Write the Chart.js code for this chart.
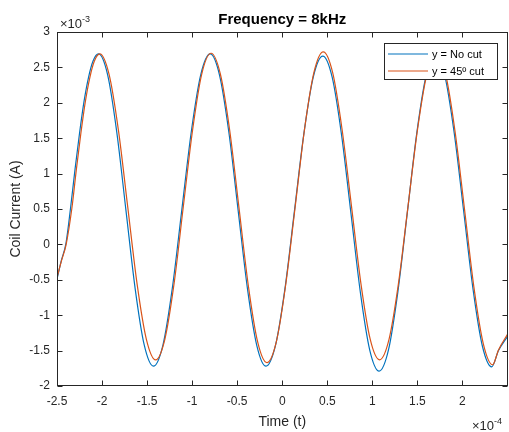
<!DOCTYPE html>
<html lang="en">
<head>
  <meta charset="UTF-8" />
  <title>Frequency = 8kHz</title>
  <script src="https://cdn.jsdelivr.net/npm/chart.js"></script>
  <style>
    body { margin: 0; background: #fff; }
    canvas { display: block; }
  </style>
</head>
<body>
  <canvas id="myChart" width="509" height="432"></canvas>

  <script>
    // time in units of 1e-4 s, current in units of 1e-3 A
    const timeNoCut = [-2.5, -2.45, -2.40, -2.35, -2.30, -2.25, -2.20, -2.15, -2.10, -2.04,
      -1.938, -1.837, -1.735, -1.633, -1.532, -1.43,
      -1.325, -1.22, -1.115, -1.01, -0.905, -0.80,
      -0.697, -0.593, -0.49, -0.387, -0.283, -0.18,
      -0.075, 0.03, 0.135, 0.24, 0.345, 0.45,
      0.554, 0.658, 0.763, 0.867, 0.971, 1.075,
      1.179, 1.283, 1.388, 1.492, 1.596, 1.70,
      1.804, 1.908, 2.013, 2.117, 2.221, 2.325,
      2.40, 2.50];
    const currentNoCut = [-0.49, -0.22, 0.02, 0.51, 1.06, 1.57, 2.02, 2.36, 2.59, 2.69,
      2.395, 1.59, 0.485, -0.62, -1.42, -1.72,
      -1.425, -0.617, 0.485, 1.588, 2.395, 2.69,
      2.395, 1.588, 0.485, -0.617, -1.425, -1.72,
      -1.427, -0.625, 0.47, 1.565, 2.367, 2.66,
      2.362, 1.548, 0.435, -0.678, -1.492, -1.79,
      -1.49, -0.673, 0.445, 1.563, 2.38, 2.68,
      2.385, 1.578, 0.475, -0.628, -1.435, -1.73,
      -1.50, -1.30];

    const timeCut = [-2.5, -2.45, -2.40, -2.335, -2.285, -2.235, -2.185, -2.135, -2.085, -2.025,
      -1.922, -1.818, -1.715, -1.612, -1.508, -1.405,
      -1.303, -1.20, -1.098, -0.995, -0.893, -0.79,
      -0.687, -0.583, -0.48, -0.377, -0.273, -0.17,
      -0.066, 0.038, 0.143, 0.247, 0.351, 0.455,
      0.559, 0.663, 0.768, 0.872, 0.976, 1.08,
      1.185, 1.29, 1.395, 1.50, 1.605, 1.71,
      1.814, 1.918, 2.023, 2.127, 2.231, 2.335,
      2.40, 2.50];
    const currentCut = [-0.47, -0.23, -0.01, 0.51, 1.06, 1.57, 2.02, 2.36, 2.59, 2.69,
      2.40, 1.61, 0.53, -0.55, -1.34, -1.63,
      -1.34, -0.548, 0.535, 1.618, 2.41, 2.70,
      2.407, 1.608, 0.515, -0.578, -1.377, -1.67,
      -1.376, -0.573, 0.525, 1.623, 2.426, 2.72,
      2.429, 1.633, 0.545, -0.543, -1.339, -1.63,
      -1.341, -0.55, 0.53, 1.61, 2.40, 2.69,
      2.396, 1.593, 0.495, -0.603, -1.40, -1.70,
      -1.49, -1.27];

    const seriesNames = ['y = No cut', 'y = 45º cut'];
    const seriesColors = ['#0072BD', '#D95319'];
    const xTicks = [-2.5, -2, -1.5, -1, -0.5, 0, 0.5, 1, 1.5, 2];
    const yTicks = [-2, -1.5, -1, -0.5, 0, 0.5, 1, 1.5, 2, 2.5, 3];

    const FONT = '"Liberation Sans", Arial, sans-serif';
    const AXIS = '#262626';

    const toPoints = (xs, ys) => xs.map((x, i) => ({ x: x, y: ys[i] }));

    // box, inward ticks, titles and legend like matlab
    const matlabFrame = {
      id: 'matlabFrame',
      beforeDraw(chart) {
        const ctx = chart.ctx;
        ctx.save();
        ctx.fillStyle = '#fff';
        ctx.fillRect(0, 0, chart.width, chart.height);
        ctx.restore();
      },
      afterDraw(chart) {
        const { ctx, chartArea: a } = chart;
        const xs = chart.scales.x, ys = chart.scales.y;
        const L = Math.round(a.left) + 0.5, R = Math.round(a.right) - 0.5;
        const T = Math.round(a.top) + 0.5, B = Math.round(a.bottom) - 0.5;
        ctx.save();
        ctx.strokeStyle = AXIS;
        ctx.lineWidth = 1;
        ctx.strokeRect(L, T, R - L, B - T);

        ctx.beginPath();
        xTicks.forEach(v => {
          const px = Math.round(xs.getPixelForValue(v)) + 0.5;
          ctx.moveTo(px, B); ctx.lineTo(px, B - 5);
          ctx.moveTo(px, T); ctx.lineTo(px, T + 5);
        });
        yTicks.forEach(v => {
          const py = Math.round(ys.getPixelForValue(v)) + 0.5;
          ctx.moveTo(L, py); ctx.lineTo(L + 5, py);
          ctx.moveTo(R, py); ctx.lineTo(R - 5, py);
        });
        ctx.stroke();

        // title
        ctx.fillStyle = '#000';
        ctx.font = 'bold 15px ' + FONT;
        ctx.textAlign = 'center';
        ctx.textBaseline = 'alphabetic';
        ctx.fillText('Frequency = 8kHz', (a.left + a.right) / 2, 24);

        // axis titles
        ctx.fillStyle = AXIS;
        ctx.font = '14px ' + FONT;
        ctx.textBaseline = 'middle';
        ctx.fillText('Time (t)', (a.left + a.right) / 2, 422);
        ctx.save();
        ctx.translate(16, (a.top + a.bottom) / 2);
        ctx.rotate(-Math.PI / 2);
        ctx.fillText('Coil Current (A)', 0, 0);
        ctx.restore();

        // exponents
        ctx.textAlign = 'left';
        ctx.textBaseline = 'alphabetic';
        ctx.font = '13px ' + FONT;
        ctx.fillText('\u00d710', 60, 28);
        let w = ctx.measureText('\u00d710').width;
        ctx.font = '9px ' + FONT;
        ctx.fillText('-3', 60 + w, 22);
        ctx.font = '13px ' + FONT;
        ctx.fillText('\u00d710', 472, 430);
        w = ctx.measureText('\u00d710').width;
        ctx.font = '9px ' + FONT;
        ctx.fillText('-4', 472 + w, 424);

        // legend
        ctx.fillStyle = '#fff';
        ctx.fillRect(384.5, 43.5, 113, 36);
        ctx.strokeStyle = AXIS;
        ctx.strokeRect(384.5, 43.5, 113, 36);
        ctx.font = '11px ' + FONT;
        ctx.textBaseline = 'middle';
        seriesNames.forEach((name, i) => {
          const yy = 54 + i * 17;
          ctx.strokeStyle = seriesColors[i];
          ctx.lineWidth = 1.2;
          ctx.beginPath();
          ctx.moveTo(388, yy); ctx.lineTo(428, yy);
          ctx.stroke();
          ctx.fillStyle = '#000';
          ctx.fillText(name, 432, yy + 0.5);
        });
        ctx.restore();
      }
    };

    const ctx = document.getElementById('myChart').getContext('2d');
    const myChart = new Chart(ctx, {
      type: 'line',
      data: {
        datasets: [{
          label: seriesNames[0],
          data: toPoints(timeNoCut, currentNoCut),
          borderColor: seriesColors[0],
          borderWidth: 1.2,
          pointRadius: 0,
          fill: false,
          cubicInterpolationMode: 'monotone',
          order: 1
        }, {
          label: seriesNames[1],
          data: toPoints(timeCut, currentCut),
          borderColor: seriesColors[1],
          borderWidth: 1.2,
          pointRadius: 0,
          fill: false,
          cubicInterpolationMode: 'monotone',
          order: 0
        }]
      },
      options: {
        responsive: false,
        animation: false,
        layout: { padding: { top: 32, right: 1.5, left: 0, bottom: 0 } },
        plugins: {
          legend: { display: false },
          title: { display: false },
          tooltip: { enabled: false }
        },
        scales: {
          x: {
            type: 'linear',
            min: -2.5,
            max: 2.5,
            afterBuildTicks: s => { s.ticks = xTicks.map(v => ({ value: v })); },
            afterFit: s => { s.height = 46; },
            grid: { display: false, drawTicks: false },
            border: { display: false },
            ticks: {
              color: AXIS,
              font: { family: FONT, size: 12 },
              padding: 8,
              maxRotation: 0,
              autoSkip: false,
              callback: v => String(v)
            }
          },
          y: {
            type: 'linear',
            min: -2,
            max: 3,
            afterBuildTicks: s => { s.ticks = yTicks.map(v => ({ value: v })); },
            afterFit: s => { s.width = 57; },
            grid: { display: false, drawTicks: false },
            border: { display: false },
            ticks: {
              color: AXIS,
              font: { family: FONT, size: 12 },
              padding: 7,
              autoSkip: false,
              callback: v => String(v)
            }
          }
        }
      },
      plugins: [matlabFrame]
    });
  </script>
</body>
</html>
